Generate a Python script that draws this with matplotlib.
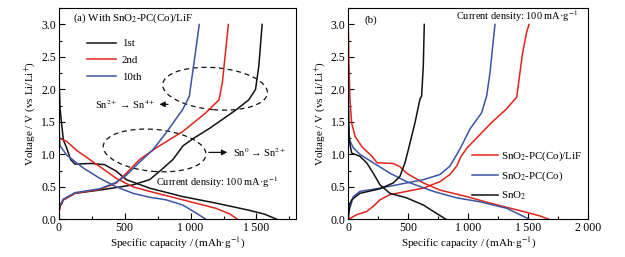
"""Charge/discharge voltage profiles: (a) cycles of SnO2-PC(Co)/LiF, (b) three electrodes."""
import matplotlib
matplotlib.use("Agg")
import matplotlib.pyplot as plt
from matplotlib.patches import Ellipse
from matplotlib.transforms import ScaledTranslation
from matplotlib.ticker import MultipleLocator, FuncFormatter

plt.rcParams["font.family"] = ["Liberation Serif", "DejaVu Serif"]
plt.rcParams["mathtext.fontset"] = "stix"
plt.rcParams["font.size"] = 7.5

RED = "#e2231a"
BLUE = "#3b54a4"
BLACK = "#111111"

# ---- panel (a): 1st / 2nd / 10th cycle of SnO2-PC(Co)/LiF
a1_dis_x = [0, 10, 35, 60, 90, 123, 250, 349, 437, 513, 689, 940, 1191, 1442, 1560, 1655]
a1_dis_y = [2.3, 1.7, 1.22, 1.10, 0.92, 0.85, 0.86, 0.84, 0.74, 0.61, 0.48, 0.35, 0.25, 0.14, 0.08, 0.0]
a1_ch_x = [0, 10, 35, 123, 312, 563, 689, 766, 866, 942, 1018, 1144, 1250, 1342, 1442, 1493, 1518, 1543]
a1_ch_y = [0.09, 0.2, 0.30, 0.40, 0.45, 0.53, 0.61, 0.74, 0.92, 1.13, 1.24, 1.40, 1.55, 1.68, 1.84, 2.0, 2.36, 3.0]

a2_dis_x = [0, 60, 136, 200, 312, 437, 563, 689, 940, 1191, 1300, 1355]
a2_dis_y = [1.25, 1.20, 1.06, 0.97, 0.81, 0.63, 0.50, 0.43, 0.30, 0.17, 0.08, 0.0]
a2_ch_x = [0, 10, 35, 123, 312, 437, 513, 613, 739, 940, 1116, 1216, 1241, 1267, 1287]
a2_ch_y = [0.09, 0.2, 0.30, 0.40, 0.46, 0.56, 0.71, 0.92, 1.10, 1.35, 1.64, 1.84, 2.1, 2.61, 3.0]

a10_dis_x = [0, 3, 10, 60, 186, 312, 437, 563, 689, 814, 940, 1040, 1116]
a10_dis_y = [2.7, 1.4, 1.13, 0.99, 0.79, 0.63, 0.50, 0.40, 0.34, 0.30, 0.22, 0.10, 0.0]
a10_ch_x = [0, 10, 35, 123, 312, 437, 513, 613, 714, 814, 940, 990, 1015, 1040, 1066]
a10_ch_y = [0.12, 0.22, 0.31, 0.41, 0.47, 0.57, 0.68, 0.88, 1.07, 1.33, 1.69, 1.89, 2.25, 2.61, 3.0]

# ---- panel (b): first cycle of three electrodes
b_lif_dis_x = [0, 5, 14, 28, 56, 112, 197, 240, 375, 430, 486, 625, 764, 986, 1180, 1458, 1600, 1670]
b_lif_dis_y = [2.95, 2.4, 1.84, 1.48, 1.28, 1.12, 0.97, 0.87, 0.86, 0.81, 0.71, 0.56, 0.45, 0.35, 0.25, 0.12, 0.05, 0.0]
b_lif_ch_x = [0, 69, 153, 208, 264, 347, 486, 625, 764, 847, 903, 940, 990, 1194, 1319, 1403, 1453, 1486, 1506]
b_lif_ch_y = [0.0, 0.07, 0.12, 0.2, 0.3, 0.38, 0.43, 0.48, 0.58, 0.69, 0.82, 0.97, 1.10, 1.49, 1.70, 1.88, 2.57, 2.88, 3.0]

b_co_dis_x = [0, 4, 10, 42, 97, 208, 347, 486, 708, 903, 1097, 1319, 1510]
b_co_dis_y = [2.3, 1.5, 1.22, 1.1, 1.0, 0.87, 0.71, 0.58, 0.43, 0.33, 0.27, 0.17, 0.0]
b_co_ch_x = [0, 42, 97, 264, 486, 625, 764, 847, 895, 935, 1014, 1111, 1153, 1181, 1222]
b_co_ch_y = [0.09, 0.35, 0.43, 0.48, 0.56, 0.61, 0.69, 0.82, 0.97, 1.10, 1.39, 1.64, 1.90, 2.26, 3.0]

b_sno2_dis_x = [0, 5, 14, 28, 97, 153, 208, 264, 347, 486, 625, 736, 814]
b_sno2_dis_y = [1.7, 1.3, 1.15, 1.02, 0.97, 0.87, 0.71, 0.53, 0.40, 0.33, 0.22, 0.09, 0.0]
b_sno2_ch_x = [0, 10, 28, 97, 264, 375, 430, 472, 500, 556, 597, 611, 625, 633]
b_sno2_ch_y = [0.0, 0.22, 0.30, 0.40, 0.47, 0.56, 0.66, 0.87, 1.07, 1.49, 1.85, 1.90, 2.37, 3.0]


def thin_thousands(v, _pos):
    v = int(round(v))
    return f"{v:,}".replace(",", "\u2009") if v >= 1000 else f"{v}"


def style_axes(ax, xmax, xmajor):
    ax.set_xlim(0, xmax)
    ax.set_ylim(0, 3.25)
    ax.xaxis.set_major_locator(MultipleLocator(xmajor))
    ax.xaxis.set_minor_locator(MultipleLocator(xmajor / 2))
    ax.yaxis.set_major_locator(MultipleLocator(0.5))
    ax.yaxis.set_minor_locator(MultipleLocator(0.25))
    ax.xaxis.set_major_formatter(FuncFormatter(thin_thousands))
    ax.yaxis.set_major_formatter(FuncFormatter(lambda v, p: f"{v:.1f}"))
    ax.tick_params(which="both", direction="in", top=False, right=False, labelsize=8.5, pad=2)
    ax.tick_params(which="major", length=4, width=0.8)
    ax.tick_params(which="minor", length=2.5, width=0.8)
    for s in ax.spines.values():
        s.set_linewidth(0.8)
    ax.set_xlabel("Specific capacity / (mAh·g$^{-1}$)", fontsize=8, labelpad=1)
    ax.set_ylabel("Voltage / V (vs Li/Li$^{+}$)", fontsize=8, labelpad=2)


fig = plt.figure(figsize=(6.25, 2.57), dpi=100)
ax1 = fig.add_axes([0.094, 0.1467, 0.3796, 0.8213])
ax2 = fig.add_axes([0.5573, 0.1467, 0.384, 0.8213])

lw = 1.1
# panel (a)
ax1.plot(a1_dis_x, a1_dis_y, color=BLACK, lw=lw, label="1st")
ax1.plot(a1_ch_x, a1_ch_y, color=BLACK, lw=lw)
ax1.plot(a2_dis_x, a2_dis_y, color=RED, lw=lw, label="2nd")
ax1.plot(a2_ch_x, a2_ch_y, color=RED, lw=lw)
ax1.plot(a10_dis_x, a10_dis_y, color=BLUE, lw=lw, label="10th")
ax1.plot(a10_ch_x, a10_ch_y, color=BLUE, lw=lw)
style_axes(ax1, 1800, 500)
ax1.legend(loc="upper left", bbox_to_anchor=(0.12, 0.855), frameon=False,
           borderpad=0, borderaxespad=0, handlelength=2.7, handletextpad=0.5,
           labelspacing=0.65, fontsize=7.8)
ax1.text(106, 3.09, "(a) With SnO$_2$-PC(Co)/LiF", va="center", ha="left", fontsize=7.8)

# dashed ellipses around the redox regions, sized in inches
for cx, cy, w, h in [(1186, 2.01, 1.05, 0.42), (727, 1.06, 1.03, 0.42)]:
    tr = fig.dpi_scale_trans + ScaledTranslation(cx, cy, ax1.transData)
    ax1.add_patch(Ellipse((0, 0), w, h, angle=-5, transform=tr, fill=False,
                          ls=(0, (4, 3)), lw=0.9, color=BLACK))

ax1.annotate("", xy=(742, 1.77), xytext=(850, 1.77),
             arrowprops=dict(arrowstyle="-|>", color=BLACK, lw=0.9, mutation_scale=8))
ax1.text(735, 1.77, "Sn$^{2+}$ → Sn$^{4+}$", ha="right", va="center")
ax1.annotate("", xy=(1300, 1.03), xytext=(1118, 1.03),
             arrowprops=dict(arrowstyle="-|>", color=BLACK, lw=0.9, mutation_scale=8))
ax1.text(1320, 1.03, "Sn$^{0}$ → Sn$^{2+}$", ha="left", va="center")
ax1.text(740, 0.565, "Current density: 100 mA·g$^{-1}$", ha="left", va="center")

# panel (b)
ax2.plot(b_lif_dis_x, b_lif_dis_y, color=RED, lw=lw, label="SnO$_2$-PC(Co)/LiF")
ax2.plot(b_lif_ch_x, b_lif_ch_y, color=RED, lw=lw)
ax2.plot(b_co_dis_x, b_co_dis_y, color=BLUE, lw=lw, label="SnO$_2$-PC(Co)")
ax2.plot(b_co_ch_x, b_co_ch_y, color=BLUE, lw=lw)
ax2.plot(b_sno2_dis_x, b_sno2_dis_y, color=BLACK, lw=lw, label="SnO$_2$")
ax2.plot(b_sno2_ch_x, b_sno2_ch_y, color=BLACK, lw=lw)
style_axes(ax2, 2000, 500)
ax2.legend(loc="upper left", bbox_to_anchor=(0.514, 0.33), frameon=False,
           borderpad=0, borderaxespad=0, handlelength=2.4, handletextpad=0.35,
           labelspacing=0.6, fontsize=7.8)
ax2.text(139, 3.07, "(b)", ha="left", va="center", fontsize=7.8)
ax2.text(1915, 3.13, "Current density: 100 mA·g$^{-1}$", ha="right", va="center")

fig.savefig("out.png", dpi=100)
